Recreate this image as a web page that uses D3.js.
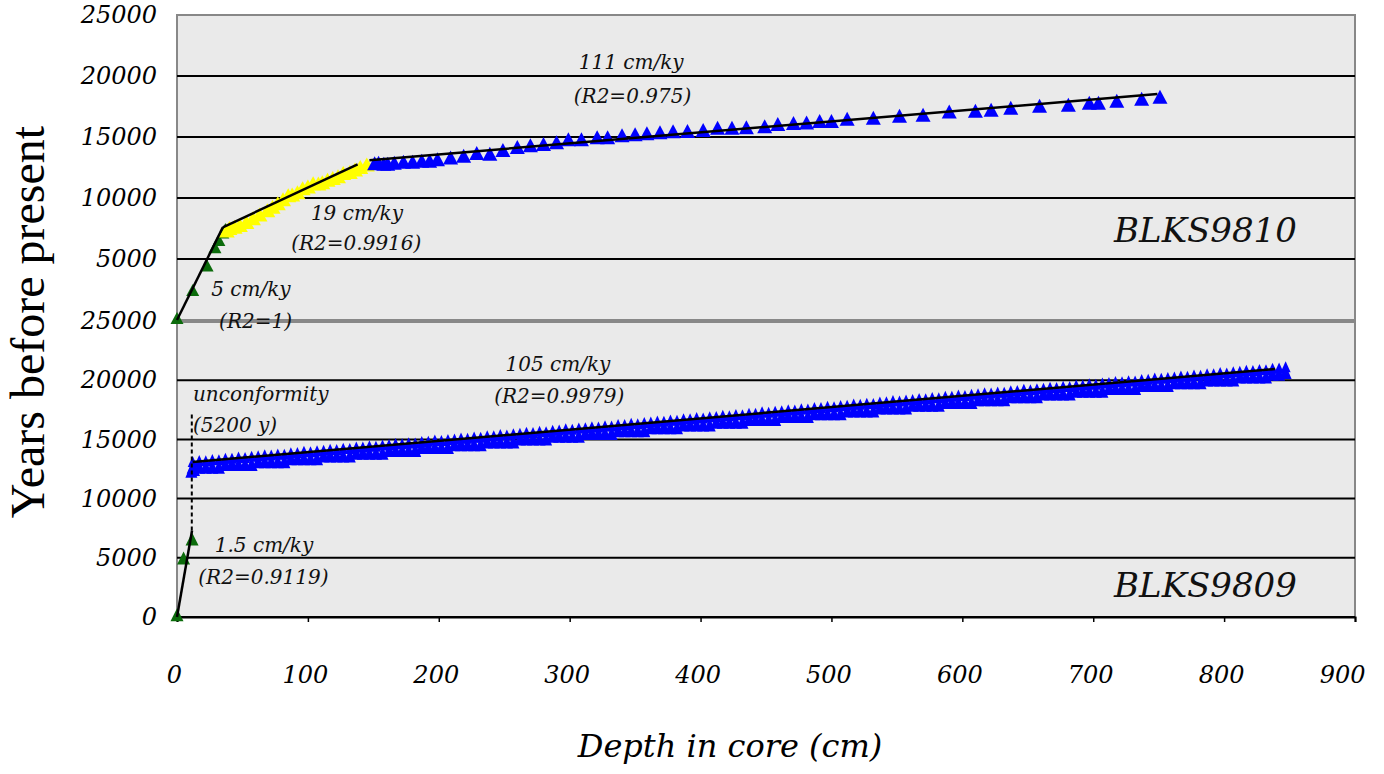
<!DOCTYPE html>
<html>
<head>
<meta charset="utf-8">
<script src="https://cdn.jsdelivr.net/npm/d3@7"></script>
<style>
    body { margin: 0; background: #fff; }
    svg { display: block; }
    .tick-label { font-family: 'DejaVu Serif', serif; font-style: italic; font-size: 24px; fill: #000; }
    .note { font-family: 'DejaVu Serif', serif; font-style: italic; font-size: 20px; fill: #111; }
    .core { font-family: 'DejaVu Serif', serif; font-style: italic; font-size: 34px; fill: #111; }
</style>
</head>
<body>
<div id="chart"></div>
<script>
// depth ticks (cm) and age ticks (years) for both cores
const depthTicks = [0, 100, 200, 300, 400, 500, 600, 700, 800, 900];
const upperAgeTicks = [5000, 10000, 15000, 20000, 25000];
const lowerAgeTicks = [0, 5000, 10000, 15000, 20000, 25000];

// BLKS9810 (upper panel) - [depth cm, age y]
const upperGreen = [[0, 0], [12, 2300], [23, 4300], [29, 5800], [32, 6400], [35, 7000], [37, 7300]];
const upperYellow = [
    [38, 7150], [40, 7350], [44, 7450], [48, 7600], [53, 7850], [58, 8150], [63, 8450],
    [69, 8800], [73, 9100], [77, 9380], [81, 9700], [85, 10030], [88, 10100], [92, 10280],
    [96, 10600], [100, 10750], [104, 11020], [108, 11000], [111, 11100], [115, 11300],
    [119, 11440], [123, 11600], [127, 11850], [132, 11950], [136, 12150], [140, 12350], [145, 12550]
];
const upperBlue = [
    [151, 12650], [154, 12700], [158, 12620], [161, 12620], [166, 12700], [173, 12790], [180, 12790],
    [187, 12870], [193, 12870], [199, 12980], [209, 13130], [219, 13280], [229, 13500], [239, 13430],
    [249, 13750], [260, 13980], [270, 14130], [280, 14230], [290, 14380], [299, 14620], [309, 14630],
    [321, 14780], [329, 14790], [340, 14950], [350, 15040], [359, 15120], [369, 15200], [379, 15290],
    [390, 15300], [402, 15380], [413, 15560], [424, 15570], [435, 15600], [449, 15700], [459, 15880],
    [471, 15950], [481, 16000], [491, 16120], [500, 16130], [512, 16300], [532, 16390], [552, 16560],
    [570, 16640], [590, 16890], [610, 16970], [622, 17050], [637, 17210], [659, 17380], [681, 17460],
    [697, 17620], [704, 17620], [718, 17790], [737, 17950], [751, 18110]
];
const upperFits = [
    [[0, 0], [35, 7600]],
    [[35, 7600], [138, 12750]],
    [[147, 13100], [749, 18520]]
];

// BLKS9809 (lower panel)
const lowerGreen = [[0, 0], [5, 4800], [11.5, 6400]];
// [depth cm, upper age, lower age] - two age estimates per sampled depth
const lowerBlue = [
    [11, 12150, 12150], [13, 12250, 12300],
    [12, 12980, 12490], [17, 13068, 12490], [22, 13045, 12490], [27, 13143, 12490], [32, 13120, 12490],
    [37, 13248, 12728], [42, 13256, 12728], [47, 13363, 12728], [52, 13321, 12728], [57, 13418, 12728],
    [62, 13456, 12966], [67, 13544, 12966], [72, 13521, 12966], [77, 13619, 12966], [82, 13596, 12966],
    [87, 13724, 13204], [92, 13732, 13204], [97, 13839, 13204], [102, 13797, 13204], [107, 13894, 13204],
    [112, 13932, 13442], [117, 14020, 13442], [122, 13997, 13442], [127, 14095, 13442], [132, 14072, 13442],
    [137, 14200, 13680], [142, 14208, 13680], [147, 14315, 13680], [152, 14273, 13680], [157, 14370, 13680],
    [162, 14408, 13918], [167, 14496, 13918], [172, 14473, 13918], [177, 14571, 13918], [182, 14548, 13918],
    [187, 14676, 14156], [192, 14684, 14156], [197, 14791, 14156], [202, 14749, 14156], [207, 14846, 14156],
    [212, 14884, 14394], [217, 14972, 14394], [222, 14949, 14394], [227, 15047, 14394], [232, 15024, 14394],
    [237, 15152, 14632], [242, 15160, 14632], [247, 15267, 14632], [252, 15225, 14632], [257, 15322, 14632],
    [262, 15360, 14870], [267, 15448, 14870], [272, 15425, 14870], [277, 15523, 14870], [282, 15500, 14870],
    [287, 15628, 15108], [292, 15636, 15108], [297, 15743, 15108], [302, 15701, 15108], [307, 15798, 15108],
    [312, 15836, 15346], [317, 15924, 15346], [322, 15901, 15346], [327, 15999, 15346], [332, 15976, 15346],
    [337, 16104, 15584], [342, 16112, 15584], [347, 16219, 15584], [352, 16177, 15584], [357, 16274, 15584],
    [362, 16312, 15822], [367, 16400, 15822], [372, 16377, 15822], [377, 16475, 15822], [382, 16452, 15822],
    [387, 16580, 16060], [392, 16588, 16060], [397, 16695, 16060], [402, 16653, 16060], [407, 16750, 16060],
    [412, 16788, 16298], [417, 16876, 16298], [422, 16853, 16298], [427, 16951, 16298], [432, 16928, 16298],
    [437, 17056, 16536], [442, 17064, 16536], [447, 17171, 16536], [452, 17129, 16536], [457, 17226, 16536],
    [462, 17264, 16774], [467, 17352, 16774], [472, 17329, 16774], [477, 17427, 16774], [482, 17404, 16774],
    [487, 17532, 17012], [492, 17540, 17012], [497, 17647, 17012], [502, 17605, 17012], [507, 17702, 17012],
    [512, 17740, 17250], [517, 17828, 17250], [522, 17805, 17250], [527, 17903, 17250], [532, 17880, 17250],
    [537, 18008, 17488], [542, 18016, 17488], [547, 18123, 17488], [552, 18081, 17488], [557, 18178, 17488],
    [562, 18216, 17726], [567, 18304, 17726], [572, 18281, 17726], [577, 18379, 17726], [582, 18356, 17726],
    [587, 18484, 17964], [592, 18492, 17964], [597, 18599, 17964], [602, 18557, 17964], [607, 18654, 17964],
    [612, 18692, 18202], [617, 18780, 18202], [622, 18757, 18202], [627, 18855, 18202], [632, 18832, 18202],
    [637, 18960, 18440], [642, 18968, 18440], [647, 19075, 18440], [652, 19033, 18440], [657, 19130, 18440],
    [662, 19168, 18678], [667, 19256, 18678], [672, 19233, 18678], [677, 19331, 18678], [682, 19308, 18678],
    [687, 19436, 18916], [692, 19444, 18916], [697, 19551, 18916], [702, 19509, 18916], [707, 19606, 18916],
    [712, 19644, 19154], [717, 19732, 19154], [722, 19709, 19154], [727, 19807, 19154], [732, 19784, 19154],
    [737, 19912, 19392], [742, 19920, 19392], [747, 20027, 19392], [752, 20005, 19392], [757, 20082, 19392],
    [762, 20120, 19630], [767, 20208, 19630], [772, 20185, 19630], [777, 20283, 19630], [782, 20260, 19630],
    [787, 20388, 19868], [792, 20396, 19868], [797, 20503, 19868], [802, 20461, 19868], [807, 20558, 19868],
    [812, 20596, 20106], [817, 20684, 20106], [822, 20661, 20106], [827, 20759, 20106], [832, 20736, 20106],
    [837, 20864, 20344], [842, 20872, 20344], [847, 20979, 20500]
];
const lowerFits = [
    [[0, 0], [11.5, 7300]],
    [[12, 13090], [839, 20950]]
];
const unconformity = [[11.3, 7300], [11.3, 17350]];

const upperNotes = [
    {text: "111 cm/ky", d: 347, a: 20570, anchor: "middle"},
    {text: "(R2=0.975)", d: 348, a: 17790, anchor: "middle"},
    {text: "19 cm/ky", d: 137.5, a: 8200, anchor: "middle"},
    {text: "(R2=0.9916)", d: 137, a: 5740, anchor: "middle"},
    {text: "5 cm/ky", d: 56.5, a: 1970, anchor: "middle"},
    {text: "(R2=1)", d: 60, a: -660, anchor: "middle"}
];
const lowerNotes = [
    {text: "105 cm/ky", d: 291, a: 20780, anchor: "middle"},
    {text: "(R2=0.9979)", d: 292, a: 18070, anchor: "middle"},
    {text: "unconformity", d: 12.2, a: 18240, anchor: "start"},
    {text: "(5200 y)", d: 12.2, a: 15630, anchor: "start"},
    {text: "1.5 cm/ky", d: 66.5, a: 5490, anchor: "middle"},
    {text: "(R2=0.9119)", d: 66, a: 2790, anchor: "middle"}
];

const width = 1384, height = 774;
const left = 177, right = 1355;
const upperTop = 15, upperBottom = 320;
const lowerTop = 321, lowerBottom = 617;

const svg = d3.select("#chart").append("svg")
    .attr("width", width)
    .attr("height", height);

const x = d3.scaleLinear().domain([0, 900]).range([left, right]);
const yUp = d3.scaleLinear().domain([0, 25000]).range([upperBottom, upperTop]);
const yLow = d3.scaleLinear().domain([0, 25000]).range([lowerBottom, lowerTop]);

// triangle marker centred on its centroid
function tri(w, h) {
    return "M0," + (-2 * h / 3) + "L" + (w / 2) + "," + (h / 3) + "L" + (-w / 2) + "," + (h / 3) + "Z";
}

// panel backgrounds
svg.append("rect")
    .attr("x", left).attr("y", upperTop)
    .attr("width", right - left).attr("height", upperBottom - upperTop)
    .attr("fill", "#eaeaea").attr("stroke", "#888").attr("stroke-width", 2);
svg.append("rect")
    .attr("x", left).attr("y", lowerTop + 1)
    .attr("width", right - left).attr("height", lowerBottom - lowerTop - 1)
    .attr("fill", "#eaeaea").attr("stroke", "#888").attr("stroke-width", 2);

// gridlines
svg.append("g").selectAll("line")
    .data(upperAgeTicks.filter(d => d < 25000))
    .join("line")
    .attr("x1", left).attr("x2", right)
    .attr("y1", d => yUp(d)).attr("y2", d => yUp(d))
    .attr("stroke", "#000").attr("stroke-width", 2);
svg.append("g").selectAll("line")
    .data(lowerAgeTicks.filter(d => d < 25000))
    .join("line")
    .attr("x1", left).attr("x2", right)
    .attr("y1", d => yLow(d)).attr("y2", d => yLow(d))
    .attr("stroke", "#000").attr("stroke-width", 2);

// x axis at the bottom of the lower panel
const xAxis = d3.axisBottom(x)
    .tickValues(depthTicks)
    .tickSize(5)
    .tickPadding(44)
    .tickFormat(d3.format("d"));
const gx = svg.append("g")
    .attr("transform", "translate(0," + lowerBottom + ")")
    .call(xAxis);
gx.select(".domain").attr("stroke", "#000").attr("stroke-width", 2);
gx.selectAll(".tick line").attr("stroke", "#000").attr("stroke-width", 1.5);
gx.selectAll(".tick text")
    .attr("class", "tick-label")
    .attr("font-size", null).attr("font-family", null)
    .attr("text-anchor", d => d === 900 ? "end" : "middle")
    .attr("dx", d => d === 900 ? 10 : -3);

// y tick labels for both panels
const yAxisUp = d3.axisLeft(yUp).tickValues(upperAgeTicks).tickSize(0).tickPadding(20).tickFormat(d3.format("d"));
const yAxisLow = d3.axisLeft(yLow).tickValues(lowerAgeTicks).tickSize(0).tickPadding(20).tickFormat(d3.format("d"));
[svg.append("g").attr("transform", "translate(" + left + ",0)").call(yAxisUp),
 svg.append("g").attr("transform", "translate(" + left + ",0)").call(yAxisLow)].forEach(g => {
    g.select(".domain").remove();
    g.selectAll(".tick text")
        .attr("class", "tick-label")
        .attr("font-size", null).attr("font-family", null);
});

// markers
function drawPoints(data, yScale, color, w, h) {
    svg.append("g").selectAll("path")
        .data(data)
        .join("path")
        .attr("d", tri(w, h))
        .attr("transform", d => "translate(" + x(d[0]) + "," + yScale(d[1]) + ")")
        .attr("fill", color);
}
drawPoints(upperGreen, yUp, "#0b6b0b", 13, 12);
drawPoints(upperYellow, yUp, "#ffff00", 16, 14);
drawPoints(upperBlue, yUp, "#0000ff", 15, 14);
drawPoints(lowerGreen, yLow, "#0b6b0b", 13, 13);
drawPoints(lowerBlue.map(d => [d[0], d[2]]), yLow, "#0000ff", 12, 14);
drawPoints(lowerBlue.map(d => [d[0], d[1]]), yLow, "#0000ff", 10, 11);

// fitted rate lines
const line = yScale => d3.line().x(d => x(d[0])).y(d => yScale(d[1]));
svg.append("g").selectAll("path")
    .data(upperFits)
    .join("path")
    .attr("d", line(yUp))
    .attr("fill", "none").attr("stroke", "#000").attr("stroke-width", 2.5);
svg.append("g").selectAll("path")
    .data(lowerFits)
    .join("path")
    .attr("d", line(yLow))
    .attr("fill", "none").attr("stroke", "#000").attr("stroke-width", 2.5);
svg.append("path")
    .datum(unconformity)
    .attr("d", line(yLow))
    .attr("fill", "none").attr("stroke", "#000").attr("stroke-width", 2)
    .attr("stroke-dasharray", "4,3");

// annotations
function drawNotes(notes, yScale) {
    svg.append("g").selectAll("text")
        .data(notes)
        .join("text")
        .attr("class", "note")
        .attr("x", d => x(d.d))
        .attr("y", d => yScale(d.a))
        .attr("text-anchor", d => d.anchor)
        .text(d => d.text);
}
drawNotes(upperNotes, yUp);
drawNotes(lowerNotes, yLow);

svg.append("text").attr("class", "core")
    .attr("x", x(855.6)).attr("y", yUp(6390))
    .attr("text-anchor", "end").text("BLKS9810");
svg.append("text").attr("class", "core")
    .attr("x", x(855.6)).attr("y", yLow(1690))
    .attr("text-anchor", "end").text("BLKS9809");

// axis titles
svg.append("text")
    .attr("transform", "translate(44," + 322 + ") rotate(-90)")
    .attr("text-anchor", "middle")
    .style("font-family", "'Liberation Serif', serif")
    .style("font-size", "48px")
    .text("Years before present");
svg.append("text")
    .attr("x", 730).attr("y", 757)
    .attr("text-anchor", "middle")
    .style("font-family", "'DejaVu Serif', serif")
    .style("font-style", "italic")
    .style("font-size", "32px")
    .text("Depth in core (cm)");
</script>
</body>
</html>
